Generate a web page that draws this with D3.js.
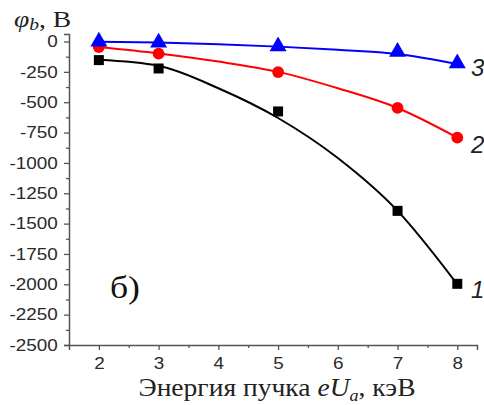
<!DOCTYPE html>
<html><head><meta charset="utf-8">
<script src="https://cdn.jsdelivr.net/npm/d3@7"></script>
<style>body{margin:0;background:#fff}</style>
</head><body>
<svg id="c" width="484" height="405"></svg>
<script>
// measured points
const energies = [2, 3, 5, 7, 8];
const series1 = [-153, -222, -576, -1395, -1996];
const series2 = [-45, -100, -252, -547, -792];
const series3 = [0, -8, -40, -85, -180];
// fitted curves, read at integer energies
const fitEnergies = [2, 3, 4, 5, 6, 7, 8];
const fit1 = [-150, -200, -385, -630, -960, -1395, -2000];
const fit2 = [-45, -98, -165, -250, -385, -548, -792];
const fit3 = [-2, -9, -22, -42, -68, -102, -185];
const yTicks = [0, -250, -500, -750, -1000, -1250, -1500, -1750, -2000, -2250, -2500];
const xTicks = [2, 3, 4, 5, 6, 7, 8];
const curveLabels = ["1", "2", "3"];

const svg = d3.select("#c");
const x = d3.scaleLinear().domain([1.5, 8.33]).range([69, 477]);
const y = d3.scaleLinear().domain([-2500, 62]).range([345, 34]);
const axisColor = "#555";

const gy = svg.append("g").attr("transform", "translate(69,0)")
  .call(d3.axisLeft(y).tickValues(yTicks).tickSize(5).tickPadding(4).tickFormat(d => String(d)));
const gyMinor = svg.append("g").attr("transform", "translate(69,0)")
  .call(d3.axisLeft(y).tickValues(d3.range(-2375, 0, 250)).tickSize(3).tickFormat(""));
const gx = svg.append("g").attr("transform", "translate(0,345)")
  .call(d3.axisBottom(x).tickValues(xTicks).tickSize(5).tickPadding(4).tickFormat(d => String(d)));
const gxMinor = svg.append("g").attr("transform", "translate(0,345)")
  .call(d3.axisBottom(x).tickValues(d3.range(2.5, 8.4, 1)).tickSize(3).tickFormat(""));
[gy, gyMinor, gx, gxMinor].forEach(g => {
  g.select(".domain").attr("stroke", axisColor).attr("stroke-width", 1.5);
  g.selectAll(".tick line").attr("stroke", axisColor).attr("stroke-width", 1.3);
  g.selectAll("text").attr("fill", "#2a2a2a").style("font-family", "Liberation Sans, Arial, sans-serif").style("font-size", "16px")
    .attr("transform", "scale(1.18,1)");
});
gy.selectAll("text").attr("x", -9.5);
gx.selectAll("text").attr("dy", "0.95em");
gxMinor.select(".domain").remove();
gyMinor.select(".domain").remove();

const all = [
  {vals: series1, fit: fit1, color: "#000", shape: d3.symbolSquare, size: 100},
  {vals: series2, fit: fit2, color: "#ff0000", shape: d3.symbolCircle, size: 110},
  {vals: series3, fit: fit3, color: "#0000ff", shape: d3.symbolTriangle, size: 125}
];
const line = d3.line().x((d, i) => x(fitEnergies[i])).y(d => y(d)).curve(d3.curveMonotoneX);
all.forEach(s => {
  svg.append("path").attr("d", line(s.fit)).attr("fill", "none").attr("stroke", s.color).attr("stroke-width", 2);
});
all.forEach(s => {
  svg.append("g").selectAll("path").data(energies).join("path")
    .attr("transform", (d, i) => `translate(${x(d)},${y(s.vals[i])})`)
    .attr("d", d3.symbol().type(s.shape).size(s.size))
    .attr("fill", s.color);
});

function stretch(sel, sx) {
  const tx = +sel.attr("x"), ty = +sel.attr("y");
  sel.attr("transform", `translate(${tx},${ty}) scale(${sx},1) translate(${-tx},${-ty})`);
}

const labelF = "italic 24px Liberation Sans, Arial, sans-serif";
[[0, 298], [1, 153], [2, 76]].forEach(([i, yy]) => {
  svg.append("text").attr("x", 471).attr("y", yy).text(curveLabels[i])
    .style("font", labelF).attr("fill", "#222");
});

const serif = "Liberation Serif, Times New Roman, serif";
const yl = svg.append("text").attr("x", 14).attr("y", 27).style("font-family", serif).style("font-size", "24px").attr("fill", "#222");
yl.append("tspan").style("font-style", "italic").text("φ");
yl.append("tspan").style("font-style", "italic").style("font-size", "17px").attr("dy", 3).text("b");
yl.append("tspan").attr("dy", -3).text(", В");
stretch(yl, 1.15);

const bl = svg.append("text").attr("x", 110).attr("y", 298).style("font-family", serif).style("font-size", "31px").attr("fill", "#111").text("б)");
stretch(bl, 1.15);

const xl = svg.append("text").attr("x", 277).attr("y", 396).attr("text-anchor", "middle")
  .style("font-family", serif).style("font-size", "26px").attr("fill", "#222");
xl.append("tspan").text("Энергия пучка ");
xl.append("tspan").style("font-style", "italic").text("eU");
xl.append("tspan").style("font-style", "italic").style("font-size", "17px").attr("dy", 5).text("a");
xl.append("tspan").attr("dy", -5).text(", кэВ");
stretch(xl, 1.06);
</script>
</body></html>
